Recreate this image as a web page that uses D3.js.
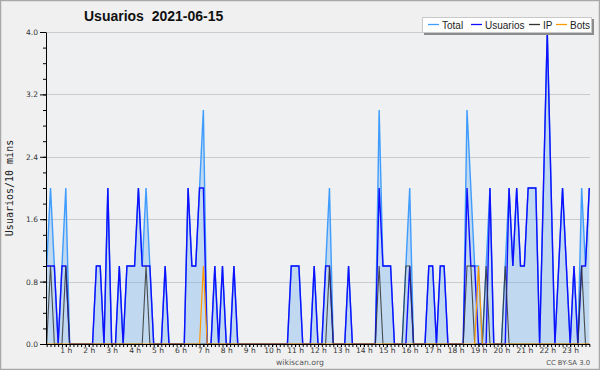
<!DOCTYPE html>
<html>
<head>
<meta charset="utf-8">
<script src="https://cdnjs.cloudflare.com/ajax/libs/d3/7.8.5/d3.min.js"></script>
<style>
body { margin:0; background:#fff; }
</style>
</head>
<body>
<div id="chart"></div>
<script>
// one point each 10 min, 00:10 .. 23:50
var times = [];
for (var h = 0; h < 24; h++) {
	for (var m = 0; m < 60; m += 10) {
		times.push(d3.format("02")(h) + ":" + d3.format("02")(m));
	}
}
times.shift();

var usuarios = [
	1,1,1,0,1,1,0,0,0,0,0,0,
	0,1,1,0,2,0,0,1,0,1,1,1,
	2,1,1,1,0,0,0,1,0,0,0,0,
	0,2,1,1,2,2,0,0,1,0,1,0,
	0,1,0,0,0,0,0,0,0,0,0,0,
	0,0,0,0,1,1,1,0,0,0,1,0,
	0,1,1,0,0,0,0,1,0,0,0,0,
	0,0,0,2,1,1,1,0,0,0,0,1,
	0,0,0,0,1,1,0,1,1,0,0,0,
	0,0,2,1,1,0,0,0,2,0,0,0,
	0,2,1,2,1,1,2,2,2,0,2,4,
	2,0,1,2,1,0,1,0,1,1,2
];
var ip = [
	0,1,0,0,0,1,0,0,0,0,0,0,
	0,0,0,0,0,0,0,0,0,0,0,0,
	0,0,1,0,0,0,0,0,0,0,0,0,
	0,0,0,0,0,0,0,0,0,0,0,0,
	0,0,0,0,0,0,0,0,0,0,0,0,
	0,0,0,0,0,0,0,0,0,0,0,0,
	0,0,1,0,0,0,0,0,0,0,0,0,
	0,0,0,1,0,0,0,0,0,0,1,1,
	0,0,0,0,0,0,0,0,0,0,0,0,
	0,0,1,1,0,0,0,1,0,0,0,0,
	1,0,0,0,0,0,0,0,0,0,0,0,
	0,0,0,0,0,0,0,0,1,0,0
];
var bots = [
	0,0,0,0,0,0,0,0,0,0,0,0,
	0,0,0,0,0,0,0,0,0,0,0,0,
	0,0,0,0,0,0,0,0,0,0,0,0,
	0,0,0,0,0,1,0,0,0,0,0,0,
	0,0,0,0,0,0,0,0,0,0,0,0,
	0,0,0,0,0,0,0,0,0,0,0,0,
	0,0,0,0,0,0,0,0,0,0,0,0,
	0,0,0,0,0,0,0,0,0,0,0,0,
	0,0,0,0,0,0,0,0,0,0,0,0,
	0,0,0,0,0,1,0,0,0,0,0,0,
	0,0,0,0,0,0,0,0,0,0,0,0,
	0,0,0,0,0,0,0,0,0,0,0
];
var total = [
	1,2,1,0,1,2,0,0,0,0,0,0,
	0,1,1,0,2,0,0,1,0,1,1,1,
	2,1,2,1,0,0,0,1,0,0,0,0,
	0,2,1,1,2,3,0,0,1,0,1,0,
	0,1,0,0,0,0,0,0,0,0,0,0,
	0,0,0,0,1,1,1,0,0,0,1,0,
	0,1,2,0,0,0,0,1,0,0,0,0,
	0,0,0,3,1,1,1,0,0,0,1,2,
	0,0,0,0,1,1,0,1,1,0,0,0,
	0,0,3,2,1,1,0,1,2,0,0,0,
	1,2,1,2,1,1,2,2,2,0,2,4,
	2,0,1,2,1,0,1,0,2,1,2
];
var yTicks = [0, 0.8, 1.6, 2.4, 3.2, 4.0];
var legendItems = [
	{name: "Total", color: "#3f9cff", x: 428},
	{name: "Usuarios", color: "#1010ff", x: 471},
	{name: "IP", color: "#333333", x: 529},
	{name: "Bots", color: "#ff9900", x: 556}
];

function draw_chart() {
	var W = 600, H = 370;
	var pLeft = 46, pRight = 590, pTop = 32, pBottom = 344;

	var svg = d3.select("#chart").append("svg")
		.attr("width", W).attr("height", H)
		.style("display", "block");

	svg.append("rect").attr("x", 0.5).attr("y", 0.5)
		.attr("width", W - 1).attr("height", H - 1)
		.attr("fill", "#f0f0f0").attr("stroke", "#a8a8a8").attr("stroke-width", 1.5);

	svg.append("rect").attr("x", pLeft).attr("y", pTop)
		.attr("width", pRight - pLeft).attr("height", pBottom - pTop)
		.attr("fill", "#eef0f2");

	var x = d3.scalePoint().domain(times).range([pLeft + 0.7, pRight - 0.7]);
	var y = d3.scaleLinear().domain([0, 4]).range([pBottom, pTop]);

	// grid
	svg.append("g").selectAll("line").data(yTicks.slice(1)).join("line")
		.attr("x1", pLeft).attr("x2", pRight)
		.attr("y1", function(d) { return Math.round(y(d)) + 0.5; })
		.attr("y2", function(d) { return Math.round(y(d)) + 0.5; })
		.attr("stroke", "#cbcbcb").attr("stroke-width", 1);

	// series
	var area = d3.area()
		.x(function(d, i) { return x(times[i]); })
		.y0(pBottom).y1(function(d) { return y(d); });
	var line = d3.line()
		.x(function(d, i) { return x(times[i]); })
		.y(function(d) { return y(d); });

	svg.append("path").datum(total).attr("d", area)
		.attr("fill", "rgba(110,175,235,0.36)");
	svg.append("path").datum(total).attr("d", line)
		.attr("fill", "none").attr("stroke", "#3f9cff").attr("stroke-width", 1.4);
	svg.append("path").datum(usuarios).attr("d", line)
		.attr("fill", "none").attr("stroke", "#1010ff").attr("stroke-width", 1.4);
	svg.append("path").datum(ip).attr("d", line)
		.attr("fill", "none").attr("stroke", "#333333").attr("stroke-width", 1.1)
		.attr("stroke-opacity", 0.85);
	svg.append("path").datum(bots).attr("d", line)
		.attr("fill", "none").attr("stroke", "#ff9900").attr("stroke-width", 1.2);

	// axes
	var yMinor = svg.append("g").attr("transform", "translate(" + pLeft + ",0)")
		.call(d3.axisLeft(y).tickValues(d3.range(0, 4.01, 0.2)).tickSize(3).tickFormat(""));
	yMinor.select(".domain").remove();

	var yAxis = svg.append("g").attr("transform", "translate(" + pLeft + ",0)")
		.call(d3.axisLeft(y).tickValues(yTicks).tickSize(6).tickSizeOuter(0)
			.tickFormat(d3.format(".1f")));
	yAxis.selectAll("text").attr("x", -8)
		.style("font-family", "DejaVu Sans").style("font-size", "7.5px").attr("fill", "#333");

	var xMinor = svg.append("g").attr("transform", "translate(0," + pBottom + ")")
		.call(d3.axisBottom(x).tickValues(times).tickSize(3).tickFormat(""));
	xMinor.select(".domain").attr("d", "M" + pLeft + ",0.5H" + pRight);

	var hours = times.filter(function(t) { return t.slice(3) == "00"; });
	var xAxis = svg.append("g").attr("transform", "translate(0," + pBottom + ")")
		.call(d3.axisBottom(x).tickValues(hours).tickSize(3)
			.tickFormat(function(t) { return (+t.slice(0, 2)) + " h"; }));
	xAxis.select(".domain").remove();
	xAxis.selectAll("text").attr("y", 4)
		.style("font-family", "DejaVu Sans").style("font-size", "7.5px").attr("fill", "#333");

	// titles
	svg.append("text").attr("x", 84).attr("y", 21)
		.style("font-family", "Liberation Sans").style("font-weight", "bold").style("font-size", "14px")
		.attr("fill", "#111").attr("xml:space", "preserve")
		.text("Usuarios  2021-06-15");

	svg.append("text")
		.attr("transform", "translate(13," + ((pTop + pBottom) / 2) + ") rotate(-90)")
		.attr("text-anchor", "middle")
		.style("font-family", "DejaVu Sans Mono").style("font-size", "10px").attr("fill", "#222")
		.text("Usuarios/10 mins");

	svg.append("text").attr("x", 300).attr("y", 365).attr("text-anchor", "middle")
		.style("font-family", "DejaVu Sans").style("font-size", "7.7px").attr("fill", "#555")
		.text("wikiscan.org");
	svg.append("text").attr("x", 590).attr("y", 365).attr("text-anchor", "end")
		.style("font-family", "DejaVu Sans").style("font-size", "6.8px").attr("fill", "#555")
		.text("CC BY-SA 3.0");

	// legend
	var lg = svg.append("g");
	lg.append("rect").attr("x", 424).attr("y", 19).attr("width", 170).attr("height", 16).attr("fill", "#8c8c8c");
	lg.append("rect").attr("x", 422.5).attr("y", 17.5).attr("width", 169).attr("height", 15)
		.attr("fill", "#fff").attr("stroke", "#c8c8c8");
	var li = lg.selectAll("g.item").data(legendItems).join("g").attr("class", "item");
	li.append("line")
		.attr("x1", function(d) { return d.x; }).attr("x2", function(d) { return d.x + 11; })
		.attr("y1", 24.5).attr("y2", 24.5)
		.attr("stroke", function(d) { return d.color; }).attr("stroke-width", 1.3);
	li.append("text")
		.attr("x", function(d) { return d.x + 14; }).attr("y", 28.5)
		.style("font-family", "Liberation Sans").style("font-size", "10px").attr("fill", "#222")
		.text(function(d) { return d.name; });
}

draw_chart();
</script>
</body>
</html>
